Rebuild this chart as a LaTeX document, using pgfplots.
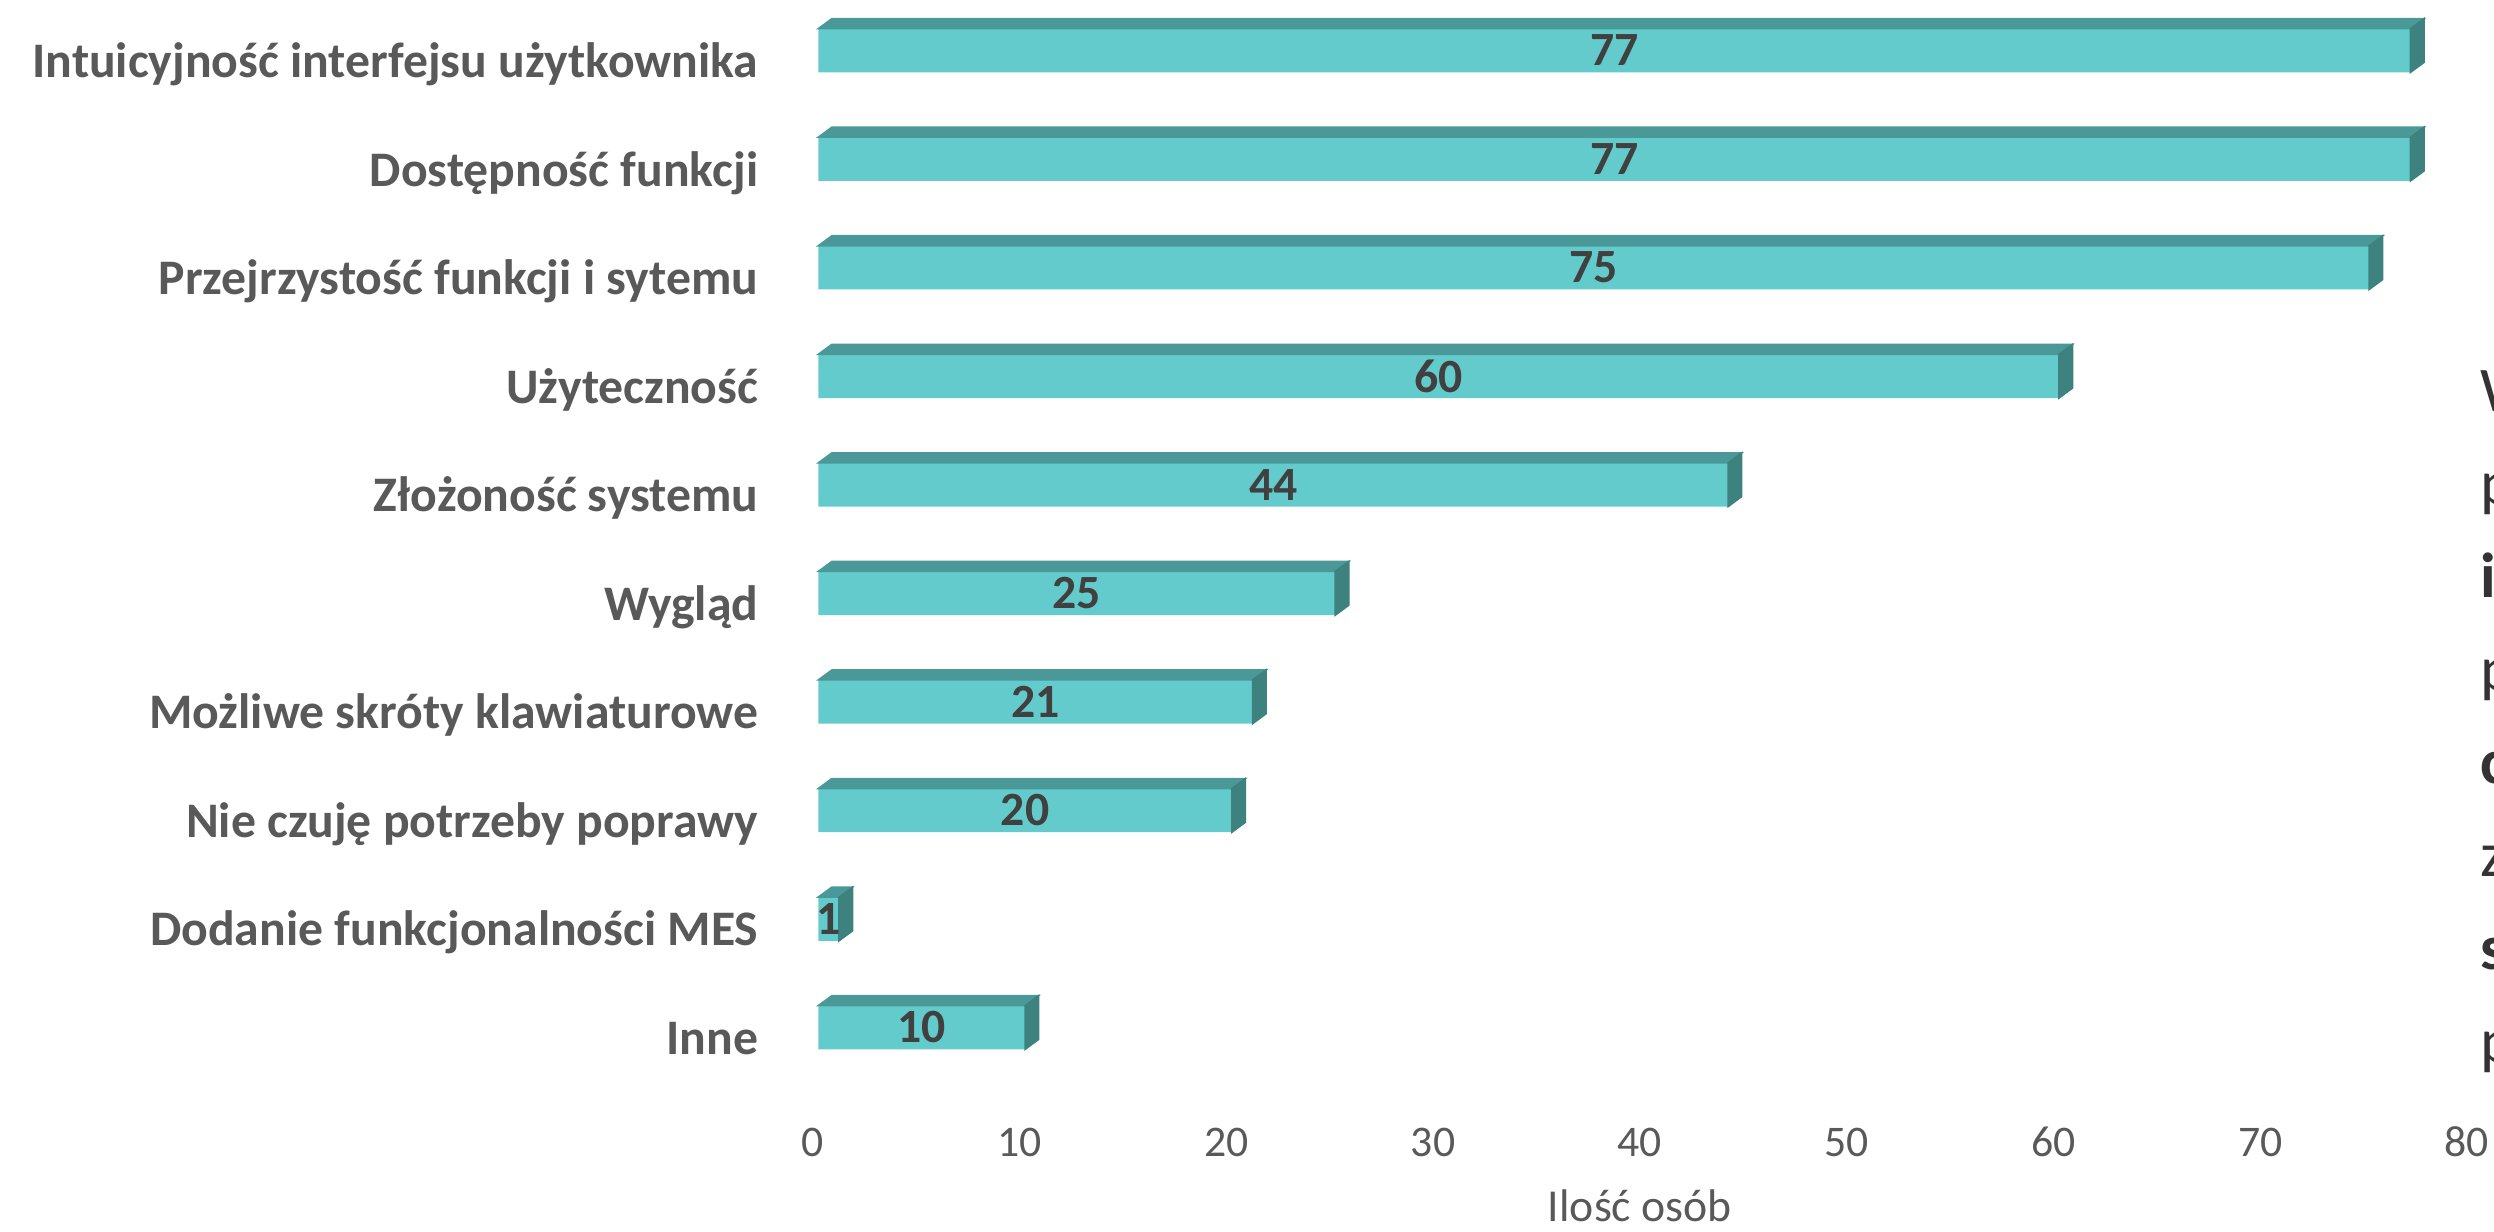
\documentclass[border=0pt]{standalone}
\usepackage{fontspec}
\setmainfont{Carlito}
\usepackage{pgfplots}
\usepackage{pgfplotstable}
\pgfplotsset{compat=1.18}

\definecolor{barfront}{HTML}{63CBCB}
\definecolor{bartop}{HTML}{4A9898}
\definecolor{barside}{HTML}{3E8280}
\definecolor{lbl}{HTML}{595959}
\definecolor{val}{HTML}{404040}
\definecolor{rtxt}{HTML}{333333}

% empty mark, the scatter code draws the 3D faces
\pgfdeclareplotmark{nomark}{}

% idx 0 = bottom row (Inne)
\pgfplotstableread{
idx v
0 10
1 1
2 20
3 21
4 25
5 44
6 60
7 75
8 77
9 77
}\answers

\begin{document}
\begin{tikzpicture}
\begin{axis}[
  x=5.2pt, y=27.3pt,
  xmin=0, xmax=80, ymin=-0.7, ymax=9.6,
  clip=false,
  axis line style={draw=none},
  tick style={draw=none},
  xtick={0,10,...,80},
  ytick={0,...,9},
  yticklabels={Inne, Dodanie funkcjonalności MES, Nie czuję potrzeby poprawy, Możliwe skróty klawiaturowe, Wygląd, Złożoność systemu, Użyteczność, Przejrzystość funkcji i sytemu, Dostępność funkcji, Intuicyjność interfejsu użytkownika},
  yticklabel style={font=\fontsize{12.5}{14}\selectfont\bfseries, text=lbl, anchor=base east, inner sep=0pt, xshift=-13.5pt, yshift=-6.8pt},
  xticklabel style={font=\fontsize{11}{13}\selectfont, text=lbl, anchor=base, inner sep=0pt, yshift=-13.3pt},
  /pgf/number format/assume math mode=true,
  xlabel={Ilość osób},
  xlabel style={at={(rel axis cs:0.5,0)}, anchor=base, inner sep=0pt, yshift=-29.6pt, font=\fontsize{11.5}{13}\selectfont, text=lbl},
]
% front faces
\addplot[xbar, bar width=11pt, bar shift=0pt, fill=barfront, draw=none, xshift=1.4pt]
  table[x=v, y=idx] {\answers};
% top and side faces
\addplot[only marks, mark=nomark, scatter, xshift=1.4pt,
  visualization depends on={\thisrow{v} \as \bv},
  scatter/@pre marker code/.code={%
    \path (axis direction cs:-\bv,0) coordinate (bl);
    \fill[bartop] ([yshift=5.5pt]bl) -- ([xshift=3.4pt,yshift=8pt]bl) -- (3.4pt,8pt) -- (0pt,5.5pt) -- cycle;
    \fill[barside] (0pt,-5.5pt) -- (0pt,5.5pt) -- (3.4pt,8pt) -- (3.4pt,-3pt) -- cycle;
  },
  scatter/@post marker code/.code={},
] table[x=v, y=idx] {\answers};
% value labels in the middle of the front face
\addplot[only marks, mark=nomark, nodes near coords, point meta=explicit, xshift=1.4pt,
  nodes near coords style={font=\fontsize{12}{14}\selectfont\bfseries, text=val, anchor=center}]
  table[x expr=\thisrow{v}/2, y=idx, meta=v] {\answers};
\coordinate (O) at (axis cs:0,0);
\end{axis}
% text box cut off at the right edge
\begin{scope}[every node/.style={anchor=base west, inner sep=0pt, font=\fontsize{16}{19}\selectfont, text=rtxt}]
\node at ([shift={(419.2pt,155pt)}]O) {W};
\node at ([shift={(419.2pt,131.6pt)}]O) {p};
\node at ([shift={(419.2pt,108.2pt)}]O) {\bfseries i};
\node at ([shift={(419.2pt,84.8pt)}]O) {p};
\node at ([shift={(419.2pt,61.4pt)}]O) {\bfseries c};
\node at ([shift={(419.2pt,38pt)}]O) {z};
\node at ([shift={(419.2pt,14.6pt)}]O) {\bfseries s};
\node at ([shift={(419.2pt,-8.8pt)}]O) {p};
\end{scope}
\pgfresetboundingbox
\useasboundingbox ([shift={(-204.4pt,-51.2pt)}]O) rectangle ([shift={(422.8pt,258.4pt)}]O);
\end{tikzpicture}
\end{document}
